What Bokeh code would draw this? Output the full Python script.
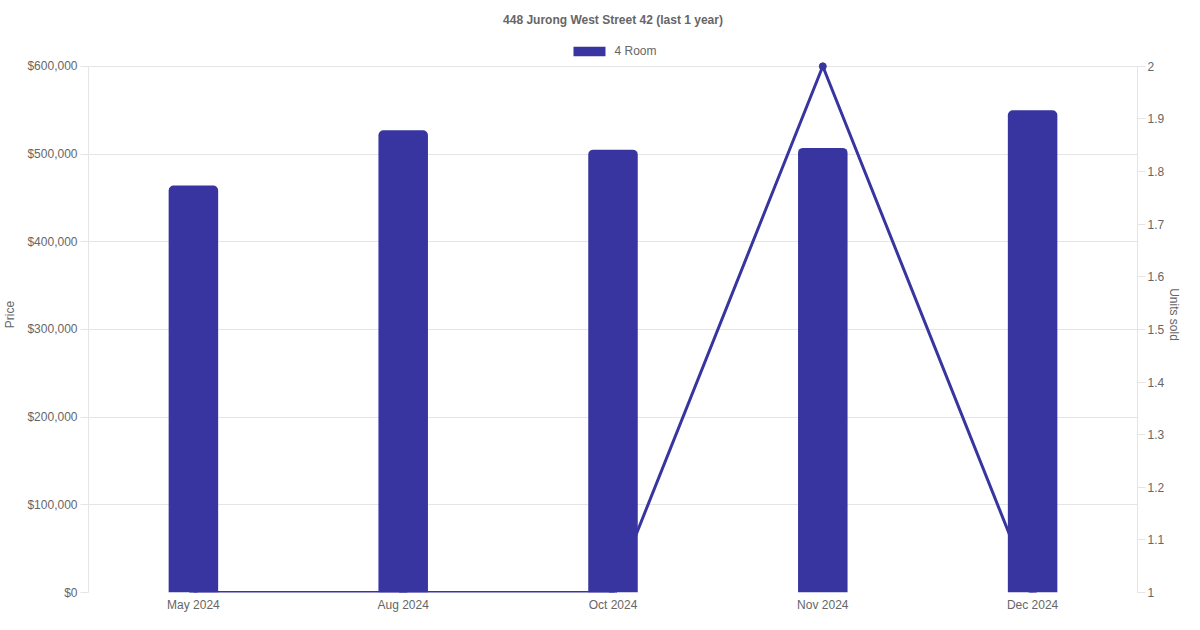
from bokeh.plotting import figure
from bokeh.models import (Range1d, LinearAxis, FixedTicker, NumeralTickFormatter,
                          CustomJSTickFormatter, Legend, LegendItem, FactorRange)
from bokeh.embed import file_html
from bokeh.resources import INLINE

months = ["May 2024", "Aug 2024", "Oct 2024", "Nov 2024", "Dec 2024"]
prices = [464000, 527000, 505000, 507000, 550000]
units = [1, 1, 1, 2, 1]
price_ticks = [0, 100000, 200000, 300000, 400000, 500000, 600000]
unit_ticks = [1.0, 1.1, 1.2, 1.3, 1.4, 1.5, 1.6, 1.7, 1.8, 1.9, 2.0]

COLOR = "#3835A0"
TEXT = "#666666"
GRID = "#e5e5e5"
FONT = "Liberation Sans"

PRICE_MAX = 600000
Y_END = 634000          # headroom above $600,000 for the legend row
UNITS_END = 1 + (Y_END / PRICE_MAX)  # keep 2 units aligned with $600,000

p = figure(width=1184, height=614, x_range=FactorRange(factors=months),
           y_range=Range1d(0, Y_END), output_backend="svg", toolbar_location=None,
           min_border_left=72, min_border_right=0, min_border_top=0, min_border_bottom=0)
p.outline_line_color = None
p.extra_y_ranges = {"units": Range1d(1, UNITS_END)}

p.title.text = "448 Jurong West Street 42 (last 1 year)"
p.title.align = "center"
p.title.text_font = FONT
p.title.text_font_size = "12px"
p.title.text_font_style = "bold"
p.title.text_color = TEXT
p.title.standoff = 20

# line first so bars are drawn over it
p.line(x=months, y=units, y_range_name="units", line_color=COLOR, line_width=3)
p.scatter(x=months, y=units, y_range_name="units", size=7, fill_color=COLOR, line_color=COLOR)
bars = p.vbar(x=months, top=prices, width=0.236, fill_color=COLOR, line_color=None,
              border_radius=(5, 5, 0, 0))

# left axis
ya = p.yaxis[0]
ya.ticker = FixedTicker(ticks=price_ticks)
ya.bounds = (0, PRICE_MAX)
ya.formatter = NumeralTickFormatter(format="$0,0")
ya.axis_label = "Price"
ya.axis_label_text_font = FONT
ya.axis_label_text_font_style = "normal"
ya.axis_label_text_font_size = "12px"
ya.axis_label_text_color = TEXT
ya.axis_label_standoff = 7
ya.major_label_text_font = FONT
ya.major_label_text_font_size = "12px"
ya.major_label_text_color = TEXT
ya.axis_line_color = GRID
ya.major_tick_line_color = GRID
ya.major_tick_out = 8
ya.major_tick_in = 0
ya.minor_tick_line_color = None
ya.major_label_standoff = 3

# right axis
ra = LinearAxis(y_range_name="units", axis_label="Units sold")
ra.ticker = FixedTicker(ticks=unit_ticks)
ra.bounds = (1, 2)
ra.formatter = CustomJSTickFormatter(code="return String(Math.round(tick*10)/10);")
ra.axis_label_text_font = FONT
ra.axis_label_text_font_style = "normal"
ra.axis_label_text_font_size = "12px"
ra.axis_label_text_color = TEXT
ra.axis_label_standoff = 0
ra.major_label_text_font = FONT
ra.major_label_text_font_size = "12px"
ra.major_label_text_color = TEXT
ra.axis_line_color = GRID
ra.major_tick_line_color = GRID
ra.major_tick_out = 8
ra.major_tick_in = 0
ra.minor_tick_line_color = None
ra.major_label_standoff = 2
p.add_layout(ra, "right")

# x axis
xa = p.xaxis[0]
xa.axis_line_color = None
xa.major_tick_line_color = None
xa.major_tick_out = 0
xa.major_tick_in = 0
xa.axis_label_standoff = 0
xa.major_label_text_font = FONT
xa.major_label_text_font_size = "12px"
xa.major_label_text_color = TEXT
xa.major_label_standoff = 5

p.xgrid.grid_line_color = None
p.ygrid.grid_line_color = GRID
p.ygrid.ticker = FixedTicker(ticks=price_ticks)

legend = Legend(items=[LegendItem(label="4 Room", renderers=[bars])],
                orientation="horizontal", location="top_center",
                glyph_width=40, glyph_height=12, label_height=12, label_text_font=FONT,
                label_text_font_size="12px", label_text_color=TEXT,
                border_line_color=None, background_fill_alpha=0,
                padding=0, margin=8, spacing=6, label_standoff=6)
p.add_layout(legend, "center")

open("out.html", "w").write(file_html(p, INLINE))
